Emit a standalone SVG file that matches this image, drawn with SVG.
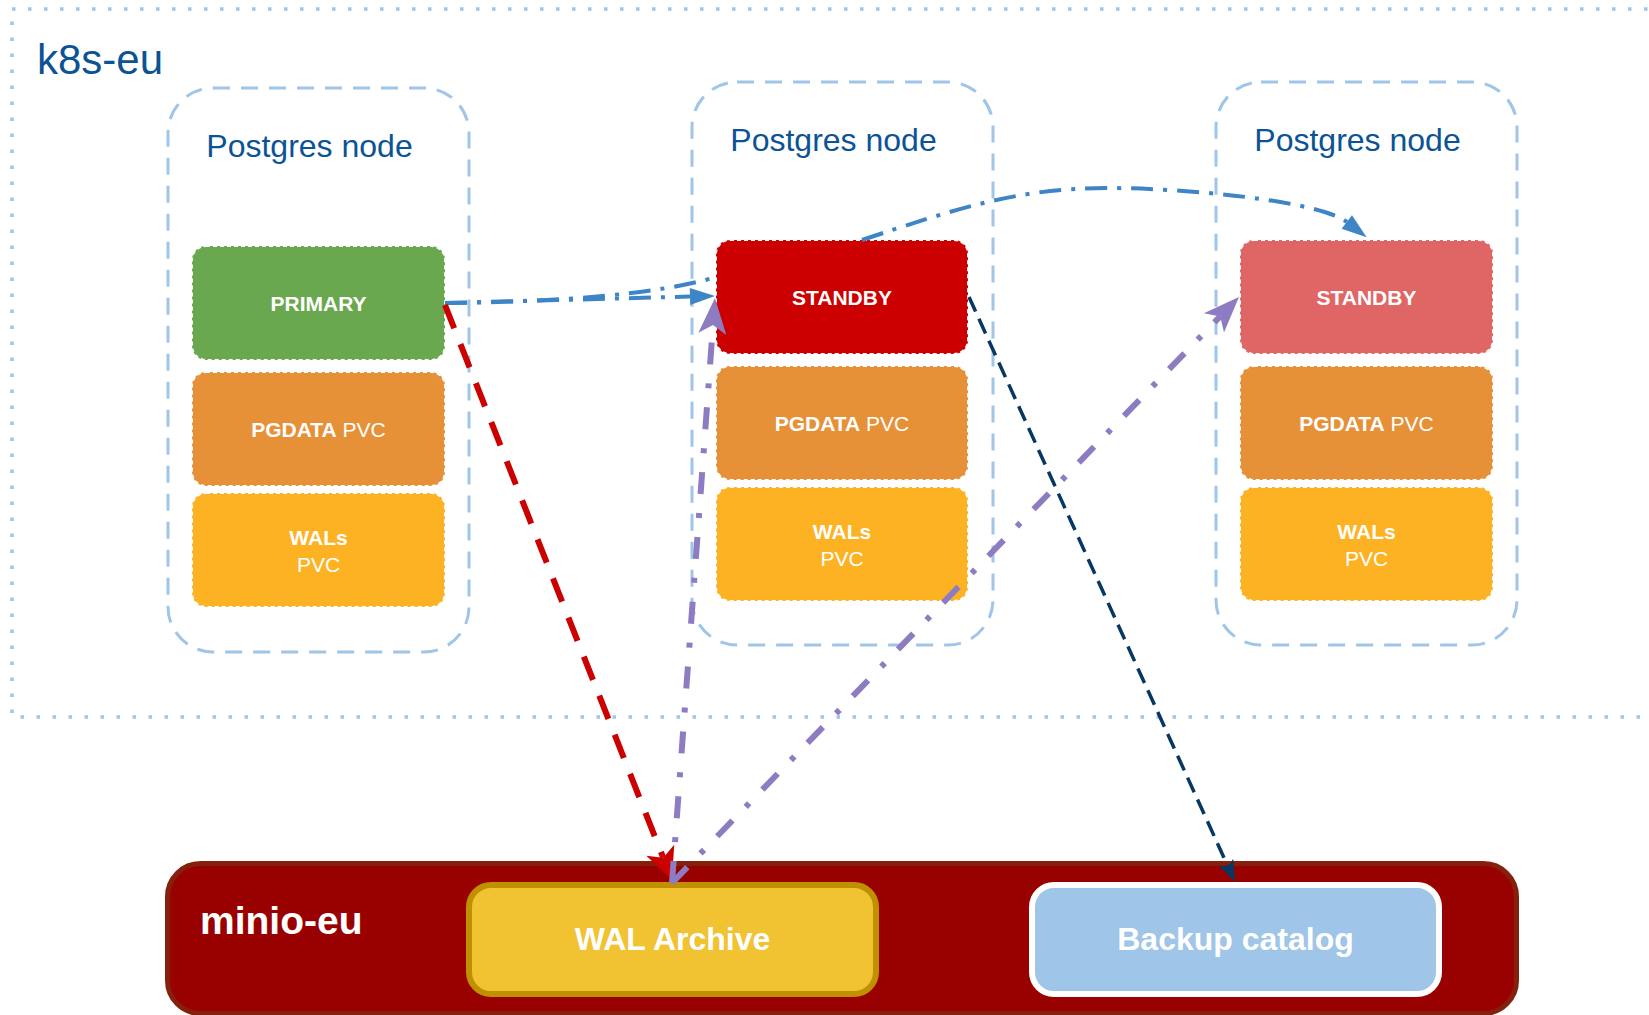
<svg xmlns="http://www.w3.org/2000/svg" width="1649" height="1015" viewBox="0 0 1649 1015">
  <style>
    .frame { fill: none; stroke: #9fc5e8; stroke-width: 3.5; stroke-dasharray: 3.5 12.5; }
    .container { fill: none; stroke: #9fc5e8; stroke-width: 3; stroke-dasharray: 17 11; }
    .box { stroke: #ffffff; stroke-width: 2; stroke-dasharray: 4 3; }
    .title { font-family: "Liberation Sans", Arial, sans-serif; fill: #0b5394; }
    .label { font-family: "Liberation Sans", Arial, sans-serif; fill: #ffffff; font-size: 21px; text-anchor: middle; }
    .b { font-weight: bold; }
    .store { font-family: "Liberation Sans", Arial, sans-serif; fill: #ffffff; font-weight: bold; font-size: 32px; text-anchor: middle; }
    .primary { fill: #6aa84f; }
    .standby { fill: #cc0000; }
    .standby2 { fill: #e06666; }
    .pgdata { fill: #e69138; }
    .wals { fill: #fdb223; }
    .conn { fill: none; stroke-linecap: butt; }
    .stream { stroke: #3d85c6; stroke-width: 4; stroke-dasharray: 22 10 4 10; }
    .archive { stroke: #cc0000; stroke-width: 6; stroke-dasharray: 25 17; }
    .backup { stroke: #073763; stroke-width: 3.5; stroke-dasharray: 16 8; }
    .restore { stroke: #8e7cc3; stroke-width: 6; stroke-dasharray: 22 19 5 19; }
  </style>
  <defs>
    <marker id="arrow-blue" markerUnits="userSpaceOnUse" markerWidth="25" markerHeight="17" refX="0" refY="8.5" orient="auto" overflow="visible">
      <path d="M0,0 L25,8.5 L0,17 z" fill="#3d85c6"/>
    </marker>
    <marker id="arrow-red" markerUnits="userSpaceOnUse" markerWidth="32" markerHeight="30" refX="8" refY="15" orient="auto" overflow="visible">
      <path d="M0,0 L32,15 L0,30 L8,15 z" fill="#cc0000"/>
    </marker>
    <marker id="arrow-navy" markerUnits="userSpaceOnUse" markerWidth="22" markerHeight="16" refX="5.5" refY="8" orient="auto" overflow="visible">
      <path d="M0,0 L22,8 L0,16 L5.5,8 z" fill="#073763"/>
    </marker>
    <marker id="arrow-purple" markerUnits="userSpaceOnUse" markerWidth="36" markerHeight="28" refX="9" refY="14" orient="auto" overflow="visible">
      <path d="M0,0 L36,14 L0,28 L9,14 z" fill="#8e7cc3"/>
    </marker>
  </defs>

  <rect width="1649" height="1015" fill="#ffffff"/>

  <!-- Kubernetes cluster boundary -->
  <g id="k8s-eu">
    <rect class="frame" x="12" y="9" width="1700" height="708"/>
    <text class="title" x="37" y="74" font-size="42">k8s-eu</text>
  </g>

  <!-- Postgres node 1 (primary) -->
  <g id="pg-node-1">
    <rect class="container" x="168" y="88" width="301" height="564" rx="45"/>
    <text class="title" x="309.5" y="157" font-size="32" text-anchor="middle">Postgres node</text>
  </g>
  <g id="primary">
    <rect class="box primary" x="192" y="246" width="253" height="114" rx="14"/>
    <text class="label b" x="318.5" y="311">PRIMARY</text>
  </g>
  <g id="pgdata-1">
    <rect class="box pgdata" x="192" y="372" width="253" height="114" rx="14"/>
    <text class="label" x="318.5" y="437"><tspan class="b">PGDATA</tspan> PVC</text>
  </g>
  <g id="wals-1">
    <rect class="box wals" x="192" y="493" width="253" height="114" rx="14"/>
    <text class="label" x="318.5" y="545"><tspan class="b">WALs</tspan><tspan x="318.5" y="572">PVC</tspan></text>
  </g>

  <!-- Postgres node 2 (standby) -->
  <g id="pg-node-2">
    <rect class="container" x="692" y="82" width="301" height="563" rx="45"/>
    <text class="title" x="833.5" y="151" font-size="32" text-anchor="middle">Postgres node</text>
  </g>
  <g id="standby-2">
    <rect class="box standby" x="716" y="240" width="252" height="114" rx="14"/>
    <text class="label b" x="842" y="304.5">STANDBY</text>
  </g>
  <g id="pgdata-2">
    <rect class="box pgdata" x="716" y="366" width="252" height="114" rx="14"/>
    <text class="label" x="842" y="430.5"><tspan class="b">PGDATA</tspan> PVC</text>
  </g>
  <g id="wals-2">
    <rect class="box wals" x="716" y="487" width="252" height="114" rx="14"/>
    <text class="label" x="842" y="538.5"><tspan class="b">WALs</tspan><tspan x="842" y="565.5">PVC</tspan></text>
  </g>

  <!-- Postgres node 3 (standby) -->
  <g id="pg-node-3">
    <rect class="container" x="1216" y="82" width="301" height="563" rx="45"/>
    <text class="title" x="1357.5" y="151" font-size="32" text-anchor="middle">Postgres node</text>
  </g>
  <g id="standby-3">
    <rect class="box standby2" x="1240" y="240" width="253" height="114" rx="14"/>
    <text class="label b" x="1366.5" y="304.5">STANDBY</text>
  </g>
  <g id="pgdata-3">
    <rect class="box pgdata" x="1240" y="366" width="253" height="114" rx="14"/>
    <text class="label" x="1366.5" y="430.5"><tspan class="b">PGDATA</tspan> PVC</text>
  </g>
  <g id="wals-3">
    <rect class="box wals" x="1240" y="487" width="253" height="114" rx="14"/>
    <text class="label" x="1366.5" y="538.5"><tspan class="b">WALs</tspan><tspan x="1366.5" y="565.5">PVC</tspan></text>
  </g>

  <!-- Object storage -->
  <g id="minio-eu">
    <rect x="167.5" y="863.5" width="1349" height="150" rx="33" fill="#990000" stroke="#85200c" stroke-width="5"/>
    <text x="200" y="934" font-family="'Liberation Sans', Arial, sans-serif" font-weight="bold" font-size="39" fill="#ffffff">minio-eu</text>
  </g>
  <g id="wal-archive">
    <rect x="469" y="885" width="407" height="109" rx="22" fill="#f1c232" stroke="#bf9000" stroke-width="6"/>
    <text class="store" x="672.5" y="950">WAL Archive</text>
  </g>
  <g id="backup-catalog">
    <rect x="1032" y="885" width="407" height="109" rx="22" fill="#9fc5e8" stroke="#ffffff" stroke-width="6"/>
    <text class="store" x="1235.5" y="950">Backup catalog</text>
  </g>

  <!-- Connectors -->
  <g id="connectors">
    <!-- streaming replication: primary to node 2 -->
    <path class="conn stream" d="M445,303 L690,296.6" marker-end="url(#arrow-blue)"/>
    <!-- streaming replication: primary to node 3 (runs behind the node 2 standby) -->
    <path class="conn stream" d="M445,303 C560,302 660,294 716,277 M862,240 C952,210.3 1016,188 1106,188 C1186,188 1319,200.7 1346.8,222" marker-end="url(#arrow-blue)"/>
    <!-- WAL archiving -->
    <path class="conn archive" d="M445,305 L663.2,857.7" marker-end="url(#arrow-red)"/>
    <!-- base backup -->
    <path class="conn backup" d="M969,297 L1228.2,867" marker-end="url(#arrow-navy)"/>
    <!-- WAL restore to standbys -->
    <path class="conn restore" d="M672,883 L713,324.9" marker-end="url(#arrow-purple)"/>
    <path class="conn restore" d="M672,883 L1220.2,316.4" marker-end="url(#arrow-purple)"/>
  </g>
</svg>
